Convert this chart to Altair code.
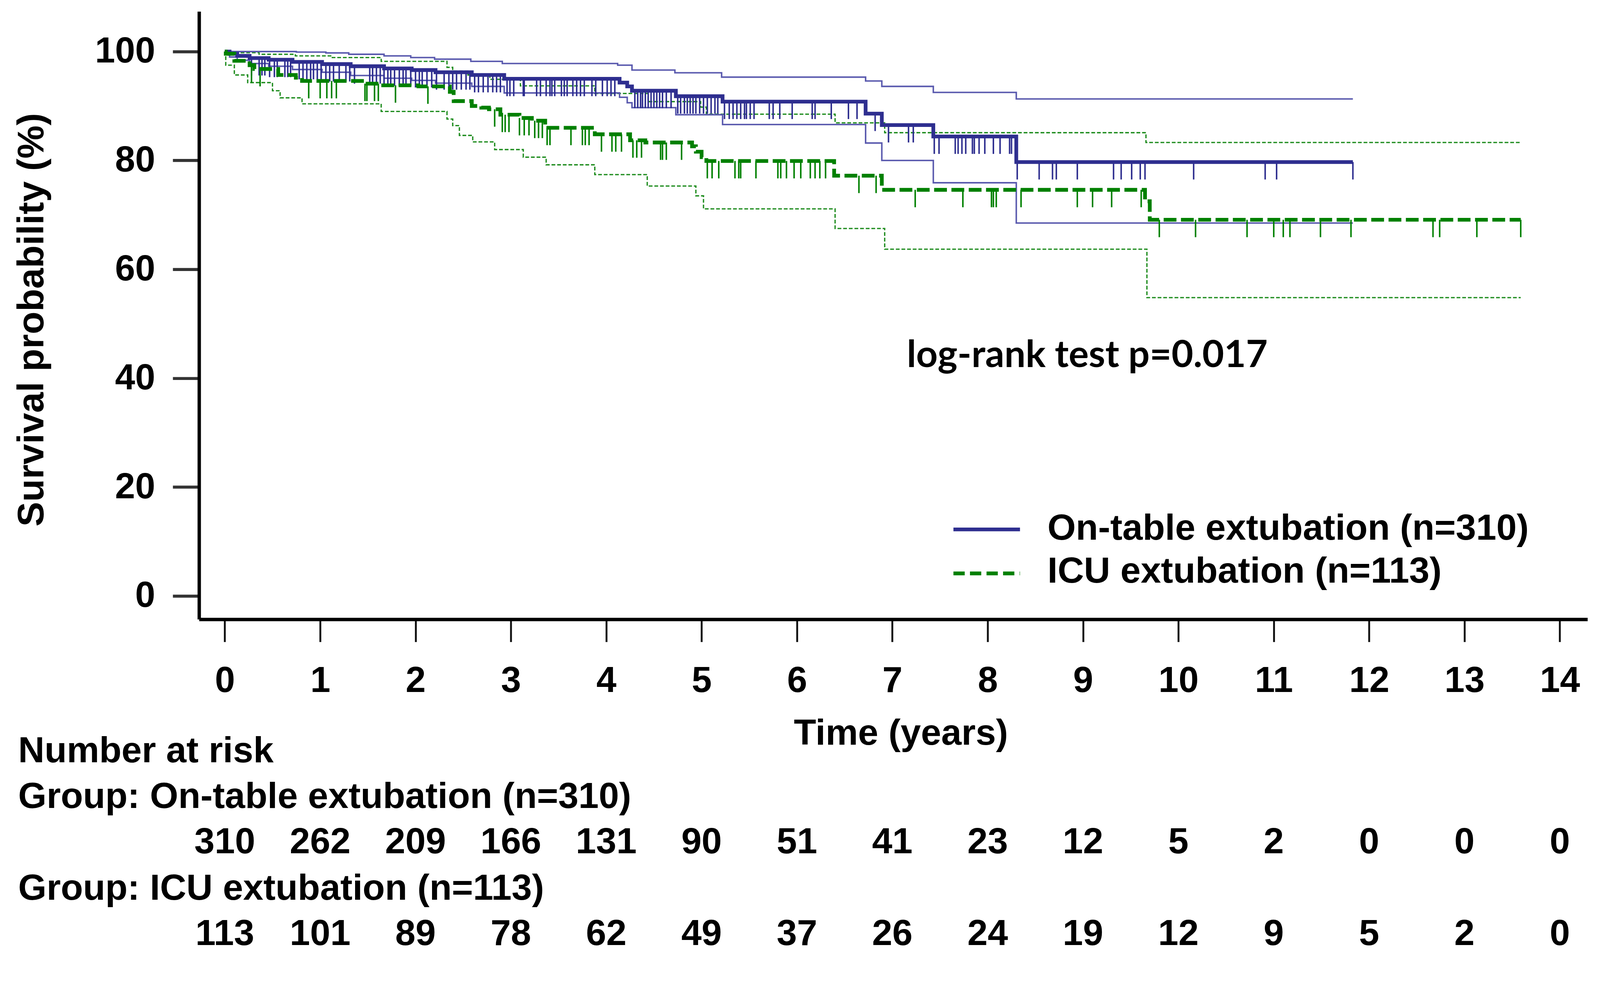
import altair as alt
import pandas as pd

FONT = "Liberation Sans"
BLUE = "#2E2E8F"
BLUE_CI = "#5A5AAE"
GREEN = "#008000"
GREEN_CI = "#1E8C1E"

x_ticks = list(range(0, 15))
y_ticks = [0, 20, 40, 60, 80, 100]

# ---- On-table extubation (n=310): Kaplan-Meier estimate and 95% CI ----
ot_t = [0, 0.05, 0.13, 0.26, 0.46, 0.71, 1.02, 1.32, 1.67, 1.96, 2.21, 2.59, 2.93,
        4.14, 4.22, 4.27, 4.73, 5.22, 6.72, 6.89, 7.43, 8.30, 11.83]
ot_s = [100, 99.6, 99.2, 98.8, 98.5, 98.1, 97.7, 97.3, 96.9, 96.6, 96.2, 95.7, 95.0,
        94.3, 93.6, 92.8, 91.8, 90.8, 88.6, 86.5, 84.4, 79.7, 79.7]
ot_up_t = [0, 0.75, 1.06, 1.30, 1.67, 1.95, 2.20, 2.58, 2.91, 4.12, 4.27, 4.72, 5.21,
           6.72, 6.89, 7.43, 8.30, 11.83]
ot_up_s = [100, 99.9, 99.75, 99.5, 99.2, 98.9, 98.6, 98.2, 97.8, 97.5, 96.6, 96.1, 95.3,
           94.6, 93.6, 92.5, 91.3, 91.3]
ot_lo_t = [0, 0.05, 0.13, 0.26, 0.46, 0.71, 1.02, 1.32, 1.67, 1.96, 2.21, 2.59, 2.93,
           4.14, 4.22, 4.27, 4.73, 5.22, 6.72, 6.89, 7.43, 8.30, 11.83]
ot_lo_s = [100, 99.0, 98.4, 97.8, 97.3, 96.7, 96.2, 95.6, 95.1, 94.7, 94.2, 93.6, 92.4,
           91.6, 90.6, 89.7, 88.4, 86.6, 83.2, 80.0, 75.9, 68.5, 68.5]
ot_censor = [0.28, 0.36, 0.39, 0.42, 0.47, 0.52, 0.55, 0.63, 0.66, 0.69, 0.78, 0.82, 0.86,
             0.90, 0.93, 0.97, 1.01, 1.06, 1.10, 1.14, 1.20, 1.27, 1.31, 1.36, 1.52, 1.55,
             1.59, 1.63, 1.67, 1.71, 1.74, 1.78, 1.83, 1.87, 1.90, 1.95, 2.00, 2.04, 2.07,
             2.12, 2.17, 2.22, 2.30, 2.35, 2.39, 2.43, 2.48, 2.53, 2.57, 2.62, 2.66, 2.71,
             2.76, 2.81, 2.85, 2.89, 2.96, 2.99, 3.03, 3.13, 3.14, 3.27, 3.31, 3.37, 3.41,
             3.43, 3.46, 3.53, 3.56, 3.59, 3.65, 3.69, 3.73, 3.77, 3.85, 3.89, 3.96, 4.01,
             4.05, 4.09, 4.30, 4.33, 4.36, 4.38, 4.41, 4.44, 4.47, 4.50, 4.53, 4.56, 4.59,
             4.63, 4.68, 4.75, 4.78, 4.82, 4.85, 4.88, 4.91, 4.94, 4.98, 5.02, 5.06, 5.10,
             5.14, 5.17, 5.24, 5.29, 5.33, 5.37, 5.41, 5.45, 5.47, 5.51, 5.55, 5.71, 5.75,
             5.82, 5.95, 6.16, 6.19, 6.36, 6.54, 6.63, 6.82, 6.96, 7.17, 7.22, 7.44, 7.49,
             7.66, 7.69, 7.73, 7.77, 7.84, 7.86, 7.91, 7.97, 8.06, 8.13, 8.23, 8.25, 8.31,
             8.54, 8.68, 8.72, 8.94, 9.32, 9.40, 9.51, 9.60, 9.65, 10.16, 10.91, 11.03, 11.83]

# ---- ICU extubation (n=113) ----
icu_t = [0, 0.01, 0.10, 0.26, 0.31, 0.56, 0.745, 0.81, 1.46, 1.62, 2.03, 2.36, 2.40, 2.59,
         2.69, 2.77, 2.89, 3.09, 3.22, 3.36, 3.88, 4.25, 4.41, 4.90, 4.94, 5.00, 5.05,
         6.39, 6.89, 9.65, 9.70, 13.59]
icu_s = [100, 99.6, 98.3, 97.5, 96.8, 95.7, 95.2, 94.6, 94.1, 93.8, 93.6, 92.6, 90.9, 90.0,
         89.7, 89.4, 88.4, 87.8, 87.3, 86.0, 84.8, 83.7, 83.3, 82.6, 81.6, 80.6, 79.9,
         77.2, 74.6, 72.5, 69.1, 69.1]
icu_up_t = [0, 0.10, 0.36, 0.74, 1.12, 1.64, 2.33, 2.39, 2.55, 2.78, 3.10, 3.88, 4.44,
            4.99, 5.05, 6.40, 6.92, 9.66, 13.59]
icu_up_s = [100, 99.8, 99.5, 99.2, 98.9, 98.2, 97.1, 96.4, 95.7, 94.9, 93.7, 92.3, 90.8,
            89.8, 88.5, 86.9, 85.1, 83.3, 83.3]
icu_lo_t = [0, 0.01, 0.10, 0.24, 0.50, 0.58, 0.81, 1.64, 2.33, 2.39, 2.46, 2.60, 2.83,
            3.13, 3.37, 3.88, 4.43, 4.94, 5.02, 6.40, 6.92, 9.67, 13.59]
icu_lo_s = [100, 97.5, 95.7, 94.3, 92.8, 91.5, 90.4, 89.0, 87.6, 86.4, 84.6, 83.4, 82.0,
            80.6, 79.2, 77.4, 75.3, 73.5, 71.1, 67.5, 63.7, 54.8, 54.8]
icu_censor = [0.28, 0.37, 0.88, 1.00, 1.07, 1.12, 1.17, 1.47, 1.49, 1.57, 1.61, 1.79, 2.13,
              2.83, 2.91, 2.94, 2.98, 3.09, 3.14, 3.19, 3.25, 3.29, 3.33, 3.38, 3.41, 3.63,
              3.75, 3.78, 3.82, 3.95, 4.06, 4.10, 4.16, 4.28, 4.32, 4.37, 4.57, 4.59, 4.63,
              4.79, 5.06, 5.11, 5.18, 5.35, 5.39, 5.41, 5.57, 5.80, 5.83, 5.89, 5.97, 6.04,
              6.14, 6.19, 6.24, 6.30, 6.65, 6.83, 7.24, 7.74, 8.04, 8.06, 8.09, 8.35, 8.94,
              9.10, 9.30, 9.61, 9.80, 10.18, 10.72, 11.00, 11.10, 11.17, 11.49, 11.81,
              12.67, 12.74, 13.13, 13.59]

groups = ["On-table extubation (n=310)", "ICU extubation (n=113)"]
risk_ot = [310, 262, 209, 166, 131, 90, 51, 41, 23, 12, 5, 2, 0, 0, 0]
risk_icu = [113, 101, 89, 78, 62, 49, 37, 26, 24, 19, 12, 9, 5, 2, 0]
annotation = "log-rank test p=0.017"

TICK_LEN = 3.2  # censor tick length in survival units
TOP = -27       # top padding (px); the page adds an offset above the chart

xscale = alt.Scale(domain=[-0.27, 14.29], nice=False, zero=False)
yscale = alt.Scale(domain=[-4.29, 107.38], nice=False, zero=False)

xaxis = alt.Axis(values=x_ticks, title="Time (years)", grid=False, labelFlush=False,
                 labelOverlap=False, tickSize=60, tickWidth=5, tickColor="#111111",
                 domainColor="#000000", domainWidth=9, labelPadding=57,
                 labelFont=FONT, labelFontSize=96, labelFontWeight="bold", labelColor="#000000",
                 titleFont=FONT, titleFontSize=97, titleFontWeight="bold", titleColor="#000000",
                 titleX=1866, titleY=333, titleBaseline="alphabetic", titleAlign="center")
yaxis = alt.Axis(values=y_ticks, title="Survival probability (%)", grid=False,
                 labelFlush=False, labelOverlap=False, tickSize=70, tickWidth=8,
                 tickColor="#333333", domainColor="#000000", domainWidth=9, labelPadding=47,
                 labelFont=FONT, labelFontSize=96, labelFontWeight="bold", labelColor="#000000",
                 titleFont=FONT, titleFontSize=99, titleFontWeight="bold", titleColor="#000000",
                 titleX=-414, titleY=820, titleAngle=270, titleBaseline="alphabetic",
                 titleAlign="center")

X = lambda: alt.X("t:Q", scale=xscale, axis=xaxis)
Y = lambda f="s:Q": alt.Y(f, scale=yscale, axis=yaxis)


def steps(ts, ss):
    return pd.DataFrame({"t": ts, "s": ss})


def level(ts, ss, c):
    v = ss[0]
    for ti, si in zip(ts, ss):
        if ti <= c:
            v = si
    return v


def censor_df(ts, ss, cs):
    lv = [level(ts, ss, c) for c in cs]
    return pd.DataFrame({"t": cs, "s": lv, "s2": [v - TICK_LEN for v in lv]})


def line(df, color, width, dash=None):
    kw = dict(interpolate="step-after", color=color, strokeWidth=width, strokeCap="butt")
    if dash:
        kw["strokeDash"] = dash
    return alt.Chart(df).mark_line(**kw).encode(x=X(), y=Y())


def ticks(df, color):
    return alt.Chart(df).mark_rule(color=color, strokeWidth=4).encode(
        x=X(), y=Y(), y2="s2:Q")


def label(txt, x, y, size=96, font=FONT, align="left"):
    return alt.Chart(pd.DataFrame({"txt": [txt]})).mark_text(
        font=font, fontSize=size, fontWeight="bold", color="#000000", align=align,
        baseline="alphabetic").encode(text="txt:N", x=alt.value(x), y=alt.value(y))


layers = [
    line(steps(icu_up_t, icu_up_s), GREEN_CI, 3.5, [10, 5]),
    line(steps(icu_lo_t, icu_lo_s), GREEN_CI, 3.5, [10, 5]),
    line(steps(ot_up_t, ot_up_s), BLUE_CI, 4),
    line(steps(ot_lo_t, ot_lo_s), BLUE_CI, 4),
    ticks(censor_df(ot_t, ot_s, ot_censor), BLUE),
    line(steps(ot_t, ot_s), BLUE, 10),
    ticks(censor_df(icu_t, icu_s, icu_censor), GREEN),
    line(steps(icu_t, icu_s), GREEN, 10, [34, 12]),
]

# legend
layers.append(alt.Chart(pd.DataFrame({"g": [groups[0]]})).mark_rule(
    color=BLUE, strokeWidth=10).encode(x=alt.value(2006), x2=alt.value(2183), y=alt.value(1378)))
layers.append(alt.Chart(pd.DataFrame({"g": [groups[1]]})).mark_rule(
    color=GREEN, strokeWidth=10, strokeDash=[30, 14]).encode(
    x=alt.value(2006), x2=alt.value(2183), y=alt.value(1495)))
layers.append(label(groups[0], 2256, 1405, size=97))
layers.append(label(groups[1], 2256, 1520, size=97))

# log-rank annotation
layers.append(label(annotation, 1882, 946, size=100, font="Lato"))

# number at risk table
layers.append(label("Number at risk", -481, 1997, size=97))
layers.append(label("Group: " + groups[0], -481, 2119, size=97))
layers.append(label("Group: " + groups[1], -481, 2363, size=97))
for vals, ypix in [(risk_ot, 2239), (risk_icu, 2483)]:
    df = pd.DataFrame({"t": x_ticks, "n": vals})
    layers.append(alt.Chart(df).mark_text(
        font=FONT, fontSize=97, fontWeight="bold", color="#000000", align="center",
        baseline="alphabetic").encode(x=X(), y=alt.value(ypix), text="n:Q"))

chart = alt.layer(*layers).properties(
    width=3692, height=1617,
    autosize=alt.AutoSizeParams(type="none"),
    padding={"left": 521, "top": TOP, "right": 25, "bottom": 939},
    background="white",
).configure_view(stroke=None)

chart.save("out.html", embed_options={"renderer": "svg", "actions": False})
